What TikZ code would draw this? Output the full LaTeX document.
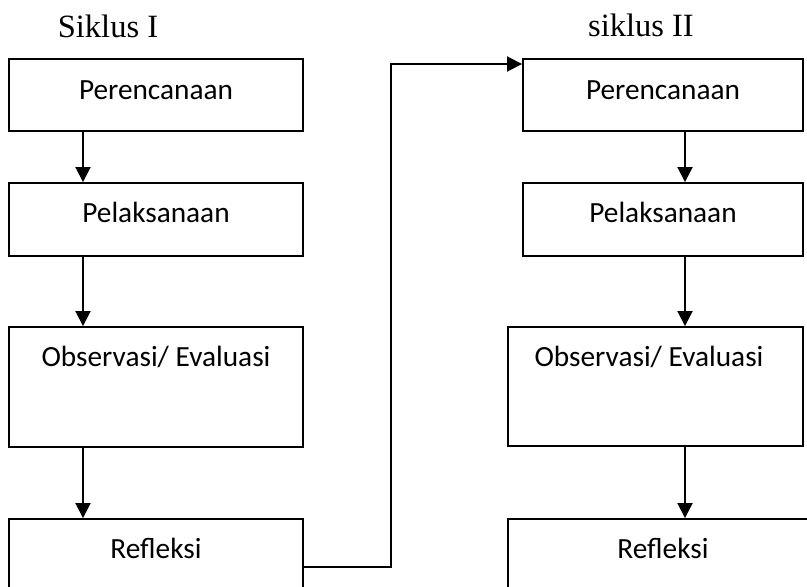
\documentclass[tikz,border=0pt]{standalone}
\usepackage{fontspec}
\setmainfont{Carlito}
\newfontfamily\titlefont{Liberation Serif}
\usetikzlibrary{arrows.meta}
\tikzset{
  box/.style={draw, line width=1.9pt, inner sep=0pt, font=\fontsize{29.3}{31}\selectfont},
  arr/.style={line width=1.9pt, -{Triangle[length=15pt,width=15pt]}},
  ttl/.style={font=\titlefont\fontsize{32.5}{34}\selectfont, inner sep=0pt, anchor=base}
}
\begin{document}
\begin{tikzpicture}[x=1pt,y=-1pt]
\clip (0,0) rectangle (807,587);
\fill[white] (0,0) rectangle (807,587);
% titles
\node[ttl] (t1) at (108,37) {Siklus I};
\node[ttl] (t2) at (641,36) {siklus II};
% left column
\node[box, minimum width=294pt, text height=40pt, text depth=32pt] (p1) at (156,95) {Perencanaan};
\node[box, minimum width=294pt, text height=39pt, text depth=34pt] (l1) at (156,219.5) {Pelaksanaan};
\node[box, minimum width=294pt, text height=39pt, text depth=81pt] (o1) at (156,387) {Observasi/ Evaluasi};
\node[box, minimum width=294pt, text height=39pt, text depth=57pt] (r1) at (156,567) {Refleksi};
% right column
\node[box, minimum width=280pt, text height=40pt, text depth=32pt] (p2) at (663,95) {Perencanaan};
\node[box, minimum width=280pt, text height=39pt, text depth=34pt] (l2) at (663,219.5) {Pelaksanaan};
\node[box, minimum width=295pt, text height=39pt, text depth=80pt] (o2) at (655.5,386.5) {\hspace*{-13pt}Observasi/ Evaluasi};
\node[box, minimum width=310pt, text height=39pt, text depth=57pt] (r2) at (663,567) {Refleksi};
% arrow guides
\coordinate (al) at (83,0);
\coordinate (ar) at (685,0);
\coordinate (bend) at (391,64);
% left arrows
\draw[arr] (p1.south -| al) -- (l1.north -| al);
\draw[arr] (l1.south -| al) -- (o1.north -| al);
\draw[arr] (o1.south -| al) -- (r1.north -| al);
% right arrows
\draw[arr] (p2.south -| ar) -- (l2.north -| ar);
\draw[arr] (l2.south -| ar) -- (o2.north -| ar);
\draw[arr] (o2.south -| ar) -- (r2.north -| ar);
% connector between cycles
\draw[arr] (r1.east) -| (bend) -- (p2.west |- bend);
\end{tikzpicture}
\end{document}
